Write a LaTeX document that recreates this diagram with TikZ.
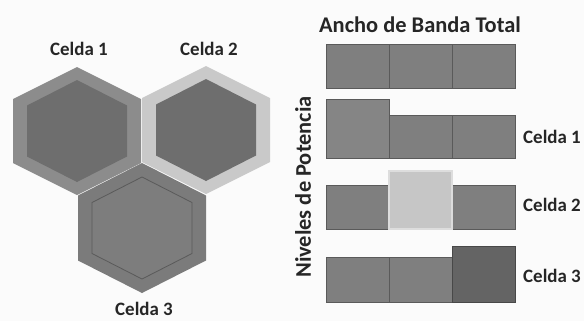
\documentclass[tikz,border=0pt]{standalone}
\usepackage{fontspec}
\setmainfont{Carlito}
\usepackage{xcolor}

\definecolor{fondo}{HTML}{FBFBFB}
\definecolor{gris}{HTML}{7F7F7F}
\definecolor{borde}{HTML}{5A5A5A}
\definecolor{grisclaro}{HTML}{C6C6C6}
\definecolor{grisoscuro}{HTML}{646464}
\definecolor{hexuno}{HTML}{8C8C8C}
\definecolor{hexdos}{HTML}{C9C9C9}
\definecolor{hextres}{HTML}{7B7B7B}
\definecolor{interior}{HTML}{6E6E6E}

% hexagon: center x, center y, half width, half height
\newcommand{\hexa}[4]{(#1,#2-#4) -- (#1+#3,#2-#4/2) -- (#1+#3,#2+#4/2) -- (#1,#2+#4) -- (#1-#3,#2+#4/2) -- (#1-#3,#2-#4/2) -- cycle}

\tikzset{
	etiqueta/.style={font=\bfseries\fontsize{19}{21}\selectfont, text=black!85},
	titulo/.style={font=\bfseries\fontsize{22.5}{25}\selectfont, text=black!85},
	bloque/.style={draw=borde, fill=gris, line width=0.8pt, inner sep=0pt, outer sep=0pt, minimum width=63bp, anchor=south west},
}

\begin{document}
\begin{tikzpicture}[x=1bp, y=-1bp]
	\fill[fondo] (0,0) rectangle (584,321);
	\useasboundingbox (0,0) rectangle (584,321);

	% celdas hexagonales
	\fill[hexuno] \hexa{77}{131}{64}{64};
	\fill[interior] \hexa{77}{131}{50}{51};
	\fill[hexdos] \hexa{206}{130}{64}{64};
	\fill[interior] \hexa{206}{130}{50}{51};
	\fill[hextres] \hexa{142}{228}{64}{65};
	\filldraw[fill=interior!90!white, draw=borde, line width=0.8pt] \hexa{142}{228}{50}{51};

	\node[etiqueta] (h1) at (79,49) {Celda 1};
	\node[etiqueta] (h2) at (209,49) {Celda 2};
	\node[etiqueta, inner sep=0pt, anchor=base] (h3) at (144,315.5) {Celda 3};

	% niveles de potencia
	\node[titulo] (titulo) at (420,25) {Ancho de Banda Total};
	\node[titulo, rotate=90] (eje) at (303,187) {Niveles de Potencia};

	\node[bloque, minimum height=44bp] (t1) at (326,88) {};
	\node[bloque, minimum height=44bp] (t2) at (389,88) {};
	\node[bloque, minimum height=44bp] (t3) at (452,88) {};

	\node[bloque, minimum height=59bp, fill=gris!95!white] (a1) at (326,158) {};
	\node[bloque, minimum height=43bp] (a2) at (389,158) {};
	\node[bloque, minimum height=43bp] (a3) at (452,158) {};

	\node[bloque, minimum height=44bp] (b1) at (326,229) {};
	\node[bloque, minimum height=44bp] (b3) at (452,229) {};
	\node[bloque, minimum height=58bp, fill=grisclaro, draw=grisclaro!60!white, line width=1.2pt] (b2) at (389,229) {};

	\node[bloque, minimum height=45bp] (c1) at (326,302) {};
	\node[bloque, minimum height=45bp] (c2) at (389,302) {};
	\node[bloque, minimum height=56bp, fill=grisoscuro, draw=borde!80!black] (c3) at (452,302) {};

	\node[etiqueta] (e1) at (552,137) {Celda 1};
	\node[etiqueta] (e2) at (552,205) {Celda 2};
	\node[etiqueta] (e3) at (552,276) {Celda 3};
\end{tikzpicture}
\end{document}
